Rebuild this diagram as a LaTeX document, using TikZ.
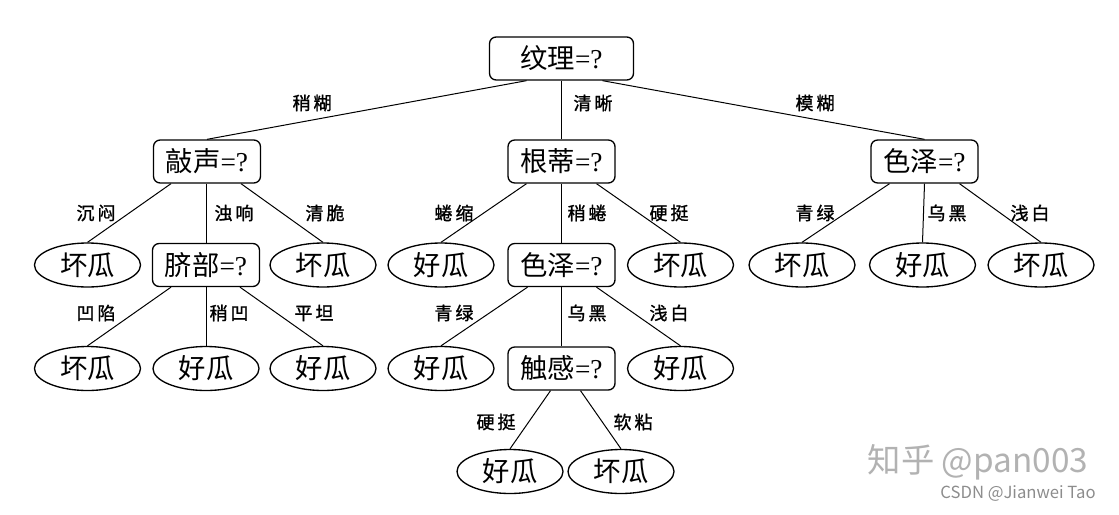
\documentclass[tikz,border=0pt]{standalone}
\usepackage{fontspec}
\setmainfont{Liberation Serif}
\newfontfamily\cjk{Noto Sans CJK SC}
\newfontfamily\cjkb{Noto Sans CJK SC}[FakeBold=1.2]
\usetikzlibrary{shapes.geometric}
\tikzset{
  qbox/.style={draw, rounded corners=5pt, line width=1pt, minimum width=80.25pt, minimum height=32.25pt, inner sep=0pt, font=\fontsize{20.5}{20.5}\selectfont},
  leaf/.style={draw, ellipse, line width=1pt, minimum width=79.5pt, minimum height=33pt, inner sep=0pt, font=\cjk\fontsize{20.5}{20.5}\selectfont},
  elab/.style={font=\cjkb\fontsize{13.5}{13.5}\selectfont, inner sep=0pt},
  edge/.style={line width=0.75pt},
  wm/.style={font=\cjk, inner sep=0pt},
}
\begin{document}
\begin{tikzpicture}[x=0.75pt,y=-0.75pt]
\useasboundingbox (0,0) rectangle (1119,514);
% level 0
\node[qbox, minimum width=108pt] (root) at (561.5,58.5) {{\cjk 纹理}=?};
% level 1
\node[qbox] (qs) at (207,161.5) {{\cjk 敲声}=?};
\node[qbox] (gd) at (561.5,161.5) {{\cjk 根蒂}=?};
\node[qbox] (sz) at (924.5,161.5) {{\cjk 色泽}=?};
% level 2
\node[leaf] (l1) at (87.5,265) {坏瓜};
\node[qbox] (qb) at (206,265) {{\cjk 脐部}=?};
\node[leaf] (l2) at (323,265) {坏瓜};
\node[leaf] (l3) at (441,265) {好瓜};
\node[qbox] (sz2) at (561.5,265) {{\cjk 色泽}=?};
\node[leaf] (l4) at (680.5,265) {坏瓜};
\node[leaf] (l5) at (802,265) {坏瓜};
\node[leaf] (l6) at (922.5,265) {好瓜};
\node[leaf] (l7) at (1041,265) {坏瓜};
% level 3
\node[leaf] (m1) at (87.5,368.5) {坏瓜};
\node[leaf] (m2) at (206,368.5) {好瓜};
\node[leaf] (m3) at (323,368.5) {好瓜};
\node[leaf] (m4) at (441,368.5) {好瓜};
\node[qbox] (cg) at (561.5,368.5) {{\cjk 触感}=?};
\node[leaf] (m5) at (680.5,368.5) {好瓜};
% level 4
\node[leaf] (n1) at (510,471.5) {好瓜};
\node[leaf] (n2) at (621,471.5) {坏瓜};
% edges
\draw[edge] ([xshift=-26.25pt]root.south) -- (qs.north);
\draw[edge] (root.south) -- (gd.north);
\draw[edge] ([xshift=30.75pt]root.south) -- (sz.north);
\draw[edge] ([xshift=-27pt]qs.south) -- (l1.north);
\draw[edge] ([xshift=-0.75pt]qs.south) -- (qb.north);
\draw[edge] ([xshift=25.5pt]qs.south) -- (l2.north);
\draw[edge] ([xshift=-26.25pt]gd.south) -- (l3.north);
\draw[edge] (gd.south) -- (sz2.north);
\draw[edge] ([xshift=26.25pt]gd.south) -- (l4.north);
\draw[edge] ([xshift=-26.25pt]sz.south) -- (l5.north);
\draw[edge] (sz.south) -- (l6.north);
\draw[edge] ([xshift=26.25pt]sz.south) -- (l7.north);
\draw[edge] ([xshift=-26.25pt]qb.south) -- (m1.north);
\draw[edge] (qb.south) -- (m2.north);
\draw[edge] ([xshift=25.5pt]qb.south) -- (m3.north);
\draw[edge] ([xshift=-25.5pt]sz2.south) -- (m4.north);
\draw[edge] (sz2.south) -- (cg.north);
\draw[edge] ([xshift=26.25pt]sz2.south) -- (m5.north);
\draw[edge] ([xshift=-8.25pt]cg.south) -- (n1.north);
\draw[edge] ([xshift=14.25pt]cg.south) -- (n2.north);
% edge labels
\node[elab] (t1) at (312,103) {稍\,糊};
\node[elab] (t2) at (593,103) {清\,晰};
\node[elab] (t3) at (815,103) {模\,糊};
\node[elab] (t4) at (96,213) {沉\,闷};
\node[elab] (t5) at (234,213) {浊\,响};
\node[elab] (t6) at (325,213) {清\,脆};
\node[elab] (t7) at (454,213) {蜷\,缩};
\node[elab] (t8) at (587,213) {稍\,蜷};
\node[elab] (t9) at (669,213) {硬\,挺};
\node[elab] (t10) at (815,213) {青\,绿};
\node[elab] (t11) at (947,213) {乌\,黑};
\node[elab] (t12) at (1030,213) {浅\,白};
\node[elab] (t13) at (96,313) {凹\,陷};
\node[elab] (t14) at (229,313) {稍\,凹};
\node[elab] (t15) at (314,313) {平\,坦};
\node[elab] (t16) at (454,313) {青\,绿};
\node[elab] (t17) at (587,313) {乌\,黑};
\node[elab] (t18) at (669,313) {浅\,白};
\node[elab] (t19) at (496,422) {硬\,挺};
\node[elab] (t20) at (633,422) {软\,粘};
% watermarks
\node[wm, text=black!30, font=\cjk\fontsize{25}{25}\selectfont] (w1) at (978,462) {知乎 @pan003};
\node[wm, text=black!45, font=\cjk\fontsize{12.5}{12.5}\selectfont] (w2) at (1018,493) {CSDN @Jianwei Tao};
\end{tikzpicture}
\end{document}
